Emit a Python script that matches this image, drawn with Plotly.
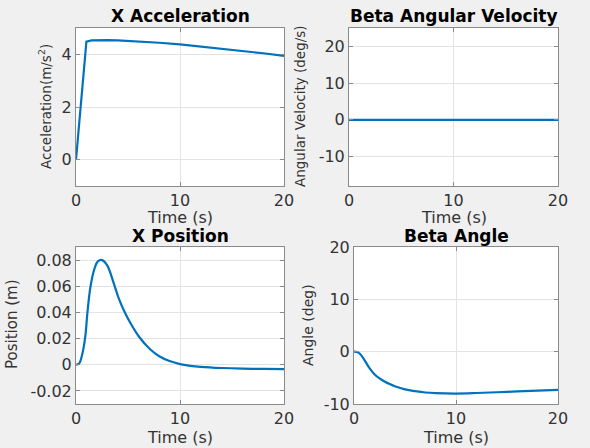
import plotly.graph_objects as go

# ---------------- data ----------------
t_acc = [0, 1.0, 1.5, 2, 3, 4, 5, 6, 8, 10, 12, 14, 16, 18, 20]
acc = [0, 4.48, 4.53, 4.54, 4.54, 4.53, 4.51, 4.49, 4.44, 4.38, 4.30, 4.22, 4.13, 4.04, 3.94]

t_vel = [0, 5, 10, 15, 20]
ang_vel = [0, 0, 0, 0, 0]

t_pos = [0, 0.3, 0.6, 0.9, 1.1, 1.4, 1.8, 2.1, 2.5, 3.0, 3.6, 4.1, 4.7, 5.3, 6.1,
         7.1, 8, 9, 10, 11, 12, 14, 16, 18, 20]
pos = [0, 0.001, 0.008, 0.022, 0.04, 0.06, 0.074, 0.079, 0.08, 0.076, 0.063, 0.051,
       0.04, 0.031, 0.021, 0.012, 0.0065, 0.0028, 0.0005, -0.0008, -0.0016, -0.0025,
       -0.003, -0.0032, -0.0033]

t_ang = [0, 0.3, 0.6, 1.0, 1.5, 2.0, 2.5, 3.0, 3.5, 4.0, 5.0, 6.0, 7.0, 8.0,
         10, 12, 14, 16, 18, 20]
ang = [0, -0.08, -0.45, -1.5, -3.1, -4.3, -5.1, -5.7, -6.2, -6.6, -7.2, -7.55,
       -7.8, -7.92, -8.0, -7.9, -7.75, -7.6, -7.45, -7.3]

x_ticks = [0, 10, 20]
x_ticktext = ["0", "10", "20"]
y1_ticks = [0, 2, 4]
y1_ticktext = ["0", "2", "4"]
y2_ticks = [-10, 0, 10, 20]
y2_ticktext = ["-10", "0", "10", "20"]
y3_ticks = [-0.02, 0, 0.02, 0.04, 0.06, 0.08]
y3_ticktext = ["-0.02", "0", "0.02", "0.04", "0.06", "0.08"]
y4_ticks = [-10, 0, 10, 20]
y4_ticktext = ["-10", "0", "10", "20"]

titles = ["X Acceleration", "Beta Angular Velocity", "X Position", "Beta Angle"]
ylabels = ["Acceleration(m/s<sup>2</sup>)", "Angular Velocity (deg/s)",
           "Position (m)", "Angle (deg)"]
xlabel = "Time (s)"

# ---------------- figure ----------------
W, H = 590, 448
LINE = "#0072BD"
FONT = "DejaVu Sans"

fig = go.Figure()
series = [(t_acc, acc, False), (t_vel, ang_vel, False), (t_pos, pos, True), (t_ang, ang, True)]
for i, (tx, ty, smooth) in enumerate(series):
    sfx = "" if i == 0 else str(i + 1)
    fig.add_trace(go.Scatter(
        x=tx, y=ty, mode="lines",
        line=dict(color=LINE, width=2.2, shape="spline" if smooth else "linear"),
        xaxis="x" + sfx, yaxis="y" + sfx, showlegend=False))

# axes boxes in pixels: (left, right, top, bottom)
boxes = [(76, 284, 28, 186), (349, 558, 28, 186),
         (76, 284, 247, 404), (354, 558, 247, 404)]
yranges = [[-1, 5], [-18, 25], [-0.03, 0.09], [-10, 20]]
yticks = [(y1_ticks, y1_ticktext), (y2_ticks, y2_ticktext),
          (y3_ticks, y3_ticktext), (y4_ticks, y4_ticktext)]

common = dict(showline=True, linecolor="#8a8a8a", linewidth=1, mirror="ticks",
              ticks="inside", ticklen=4, tickcolor="#8a8a8a", automargin=False,
              showgrid=True, gridcolor="#e3e3e3", gridwidth=1, zeroline=False,
              tickfont=dict(family=FONT, size=16, color="#333333"))

layout = {}
for i, (l, r, tp, b) in enumerate(boxes):
    sfx = "" if i == 0 else str(i + 1)
    xd = [l / W, r / W]
    yd = [1 - b / H, 1 - tp / H]
    layout["xaxis" + sfx] = dict(domain=xd, range=[0, 20], tickmode="array",
                                 tickvals=x_ticks, ticktext=x_ticktext,
                                 anchor="y" + sfx, **common)
    layout["yaxis" + sfx] = dict(domain=yd, range=yranges[i], tickmode="array",
                                 tickvals=yticks[i][0], ticktext=yticks[i][1],
                                 anchor="x" + sfx, **common)

ann = []
title_pos = [(180, 16), (453.5, 16), (180, 235.5), (456, 235.5)]
for (x, y), txt in zip(title_pos, titles):
    ann.append(dict(x=x / W, y=1 - y / H, xref="paper", yref="paper", text="<b>" + txt + "</b>",
                    showarrow=False, xanchor="center", yanchor="middle",
                    font=dict(family=FONT, size=17, color="#000000")))
xl_pos = [(180, 218), (454, 218), (180, 437), (456, 437)]
for (x, y) in xl_pos:
    ann.append(dict(x=x / W, y=1 - y / H, xref="paper", yref="paper", text=xlabel,
                    showarrow=False, xanchor="center", yanchor="middle",
                    font=dict(family=FONT, size=16, color="#333333")))
yl_pos = [(45, 107, 13.5), (300, 106, 13.5), (12, 324, 15), (308, 325, 14)]
for (x, y, s), txt in zip(yl_pos, ylabels):
    ann.append(dict(x=x / W, y=1 - y / H, xref="paper", yref="paper", text=txt,
                    showarrow=False, xanchor="center", yanchor="middle", textangle=-90,
                    font=dict(family=FONT, size=s, color="#333333")))

fig.update_layout(width=W, height=H, margin=dict(l=0, r=0, t=0, b=0, pad=0),
                  paper_bgcolor="#f0f0f0", plot_bgcolor="#ffffff",
                  annotations=ann, **layout)

fig.write_html("out.html",
               config={"displayModeBar": False},
               post_script="document.body.style.margin='0';"
                           "document.body.style.padding='0';"
                           "document.documentElement.style.overflow='hidden';")
